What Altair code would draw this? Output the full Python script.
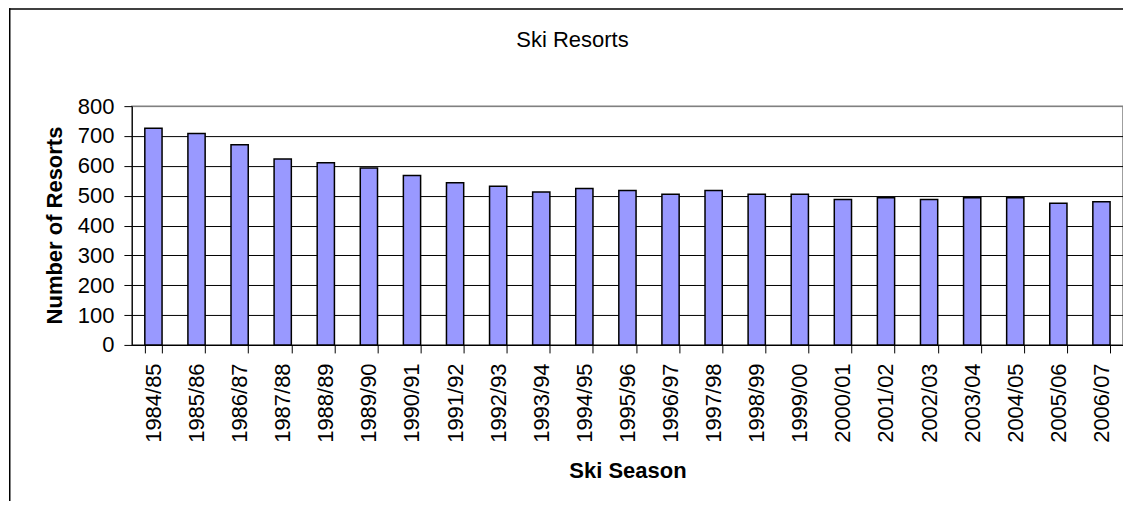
import altair as alt
import pandas as pd

seasons = ["1984/85", "1985/86", "1986/87", "1987/88", "1988/89", "1989/90",
           "1990/91", "1991/92", "1992/93", "1993/94", "1994/95", "1995/96",
           "1996/97", "1997/98", "1998/99", "1999/00", "2000/01", "2001/02",
           "2002/03", "2003/04", "2004/05", "2005/06", "2006/07"]
resorts = [726, 708, 671, 623, 610, 593, 568, 543, 532, 512, 524, 517,
           505, 517, 505, 505, 487, 493, 487, 493, 493, 475, 480]
y_ticks = [0, 100, 200, 300, 400, 500, 600, 700, 800]

df = pd.DataFrame({"season": seasons, "resorts": resorts})

FONT = "Liberation Sans"

bars = alt.Chart(df).mark_bar(
    color="#9999FF", stroke="#000000", strokeWidth=1.5
).encode(
    x=alt.X("season:N", sort=seasons,
            scale=alt.Scale(paddingInner=0.6, paddingOuter=0.3),
            axis=alt.Axis(title="Ski Season", labelAngle=270,
                          labelAlign="right", labelBaseline="middle",
                          labelPadding=10, tickSize=8, tickBand="extent",
                          tickColor="#000000", domainColor="#000000",
                          labelFontSize=22, labelColor="#000000",
                          titleFontSize=22, titleFontWeight="bold",
                          titleColor="#000000", titleY=133,
                          titleBaseline="alphabetic", grid=False)),
    y=alt.Y("resorts:Q",
            scale=alt.Scale(domain=[0, 800], nice=False),
            axis=alt.Axis(title="Number of Resorts", values=y_ticks,
                          tickSize=8, labelPadding=10,
                          tickColor="#000000", domainColor="#000000",
                          labelFontSize=22, labelColor="#000000",
                          titleFontSize=22, titleFontWeight="bold",
                          titleColor="#000000", titleX=-70, titleY=119,
                          titleBaseline="alphabetic", titleAlign="center",
                          grid=True,
                          gridColor={"condition": {"test": "datum.value === 800",
                                                   "value": "#808080"},
                                     "value": "#000000"},
                          gridOpacity=1)),
)

frame = pd.DataFrame({"k": [0]})
left_line = alt.Chart(frame).mark_rect(color="#000000").encode(
    x=alt.value(-123), x2=alt.value(-121.5),
    y=alt.value(-98), y2=alt.value(420))
top_line = alt.Chart(frame).mark_rect(color="#000000").encode(
    x=alt.value(-123), x2=alt.value(1010),
    y=alt.value(-98), y2=alt.value(-96.5))

chart = alt.layer(bars, left_line, top_line).properties(
    width=992, height=239,
    title=alt.TitleParams("Ski Resorts", fontSize=22, fontWeight="normal",
                          font=FONT, color="#000000", frame="group",
                          anchor="middle", baseline="alphabetic",
                          offset=-61, dx=-55),
    autosize=alt.AutoSizeParams(type="none"),
    padding={"left": 124, "top": 98, "right": 0, "bottom": 156},
).configure(font=FONT).configure_view(
    stroke="#808080", strokeWidth=1.5
).configure_axis(labelFont=FONT, titleFont=FONT)

chart.save("out.html", embed_options={"renderer": "svg", "actions": False})
